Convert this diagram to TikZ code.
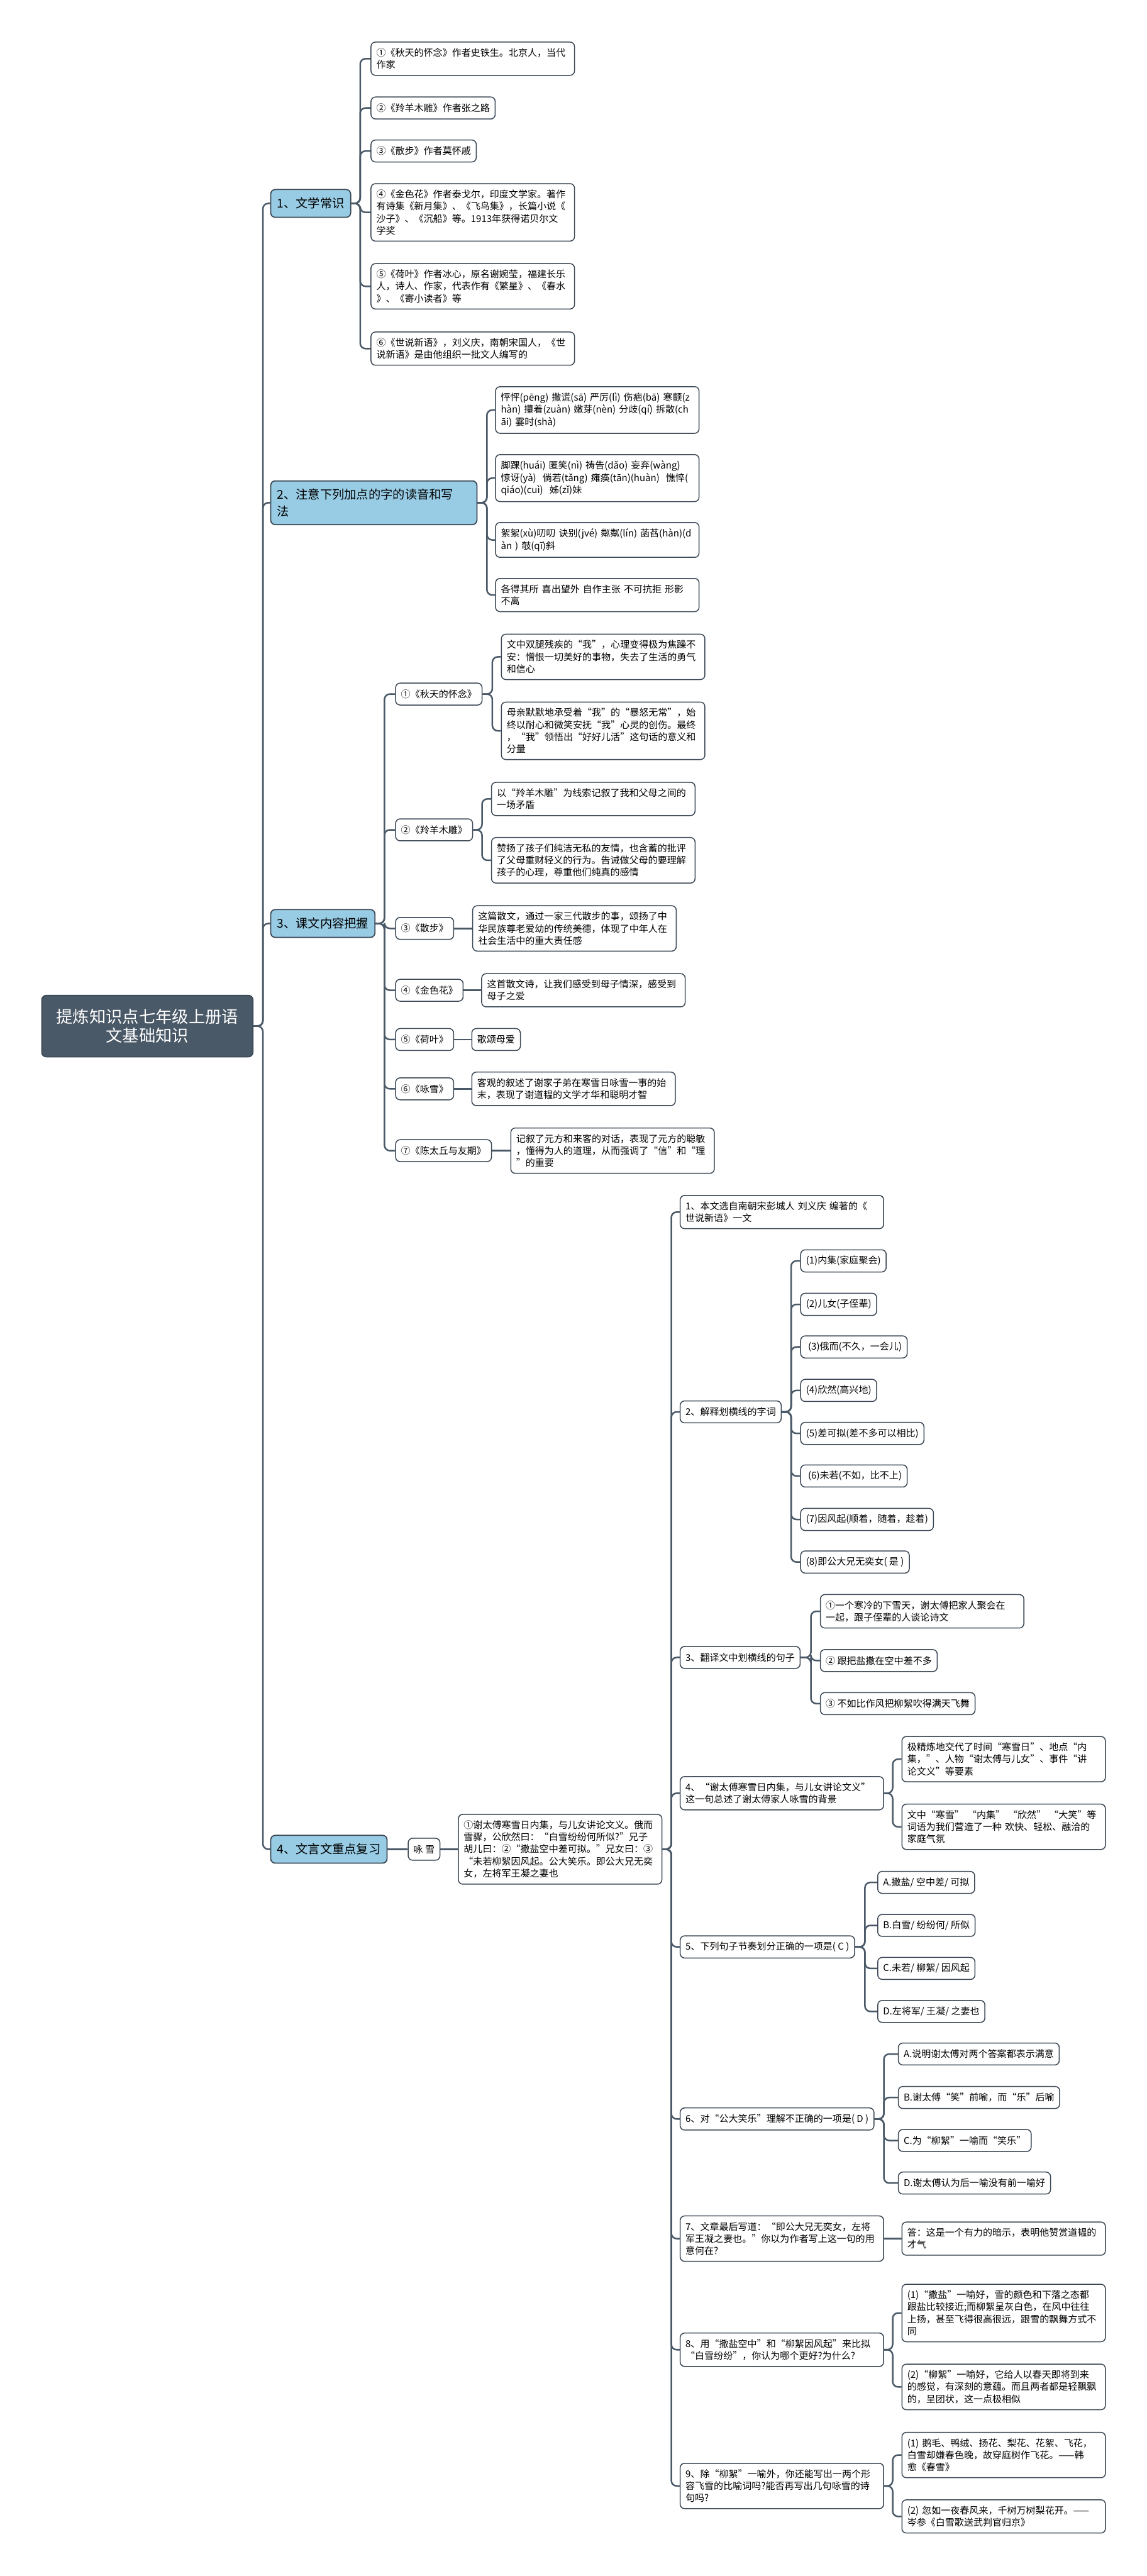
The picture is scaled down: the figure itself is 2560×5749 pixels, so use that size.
\documentclass[tikz,border=0pt]{standalone}
\usepackage{fontspec}
\setmainfont{Noto Sans CJK SC}
\usepackage{tikz}
\usetikzlibrary{positioning}
\XeTeXlinebreaklocale "zh"
\XeTeXlinebreakskip=0pt
\definecolor{slate}{HTML}{4A5967}
\definecolor{edge}{HTML}{3B4855}
\definecolor{sky}{HTML}{98CCE5}

\begin{document}
\begin{tikzpicture}[x=0.01cm, y=-0.01cm,
  root/.style={draw=edge, fill=slate, rounded corners=0.1cm, anchor=west, text=white,
               align=center, text width=4.3cm, minimum width=4.71cm, minimum height=1.37cm,
               line width=0.7pt, font=\fontsize{10.5}{12.2}\selectfont},
  topic/.style={draw=edge, fill=sky, rounded corners=0.1cm, anchor=west, align=left,
                inner xsep=0.14cm, inner ysep=5pt, minimum height=0.62cm,
                line width=0.7pt, font=\fontsize{7.7}{10.6}\selectfont},
  leaf/.style={draw=edge, fill=white, rounded corners=0.1cm, anchor=west, align=left,
               inner xsep=0.12cm, inner ysep=3.9pt, minimum height=0.49cm,
               line width=0.6pt, font=\fontsize{6}{7.7}\selectfont},
  wide/.style={text width=4.3cm},
  link/.style={draw=slate, line width=1pt, rounded corners=0.12cm}
]
\useasboundingbox (0,0) rectangle (2560,5749);

% root and main topics
\node[root] (root) at (92,2290) {提炼知识点七年级上册语\\文基础知识};
\node[topic] (cat1) at (603,454) {1、文学常识};
\node[topic, text width=4.32cm] (cat2) at (603,1122) {2、注意下列加点的字的读音和写\\法};
\node[topic] (cat3) at (603,2061) {3、课文内容把握};
\node[topic] (cat4) at (603,4127) {4、文言文重点复习};

% 1
\node[leaf, wide] (lit1) at (827,131) {①《秋天的怀念》作者史铁生。北京人，当代\\作家};
\node[leaf] (lit2) at (827,241) {②《羚羊木雕》作者张之路};
\node[leaf] (lit3) at (827,337) {③《散步》作者莫怀戚};
\node[leaf, wide] (lit4) at (827,474) {④《金色花》作者泰戈尔，印度文学家。著作\\有诗集《新月集》、《飞鸟集》，长篇小说《\\沙子》、《沉船》等。1913年获得诺贝尔文\\学奖};
\node[leaf, wide] (lit5) at (827,639) {⑤《荷叶》作者冰心，原名谢婉莹，福建长乐\\人，诗人、作家，代表作有《繁星》、《春水\\》、《寄小读者》等};
\node[leaf, wide] (lit6) at (827,778) {⑥《世说新语》，刘义庆，南朝宋国人，《世\\说新语》是由他组织一批文人编写的};

% 2
\node[leaf, wide] (pron1) at (1105,915) {怦怦(pēng) 撒谎(sā) 严厉(lì) 伤疤(bā) 寒颤(z\\hàn) 攥着(zuàn) 嫩芽(nèn) 分歧(qí) 拆散(ch\\āi) 霎时(shà)};
\node[leaf, wide] (pron2) at (1105,1067) {脚踝(huái) 匿笑(nì) 祷告(dǎo) 妄弃(wàng)\\惊讶(yà)\ \ 倘若(tǎng) 瘫痪(tān)(huàn)\ \ 憔悴(\\qiáo)(cuì)\ \ 姊(zǐ)妹};
\node[leaf, wide] (pron3) at (1105,1205) {絮絮(xù)叨叨 诀别(jvé) 粼粼(lín) 菡萏(hàn)(d\\àn ) 攲(qī)斜};
\node[leaf, wide] (pron4) at (1105,1328) {各得其所 喜出望外 自作主张 不可抗拒 形影\\不离};

% 3
\node[leaf] (k1) at (882,1549) {①《秋天的怀念》};
\node[leaf] (k2) at (882,1852) {②《羚羊木雕》};
\node[leaf] (k3) at (882,2072) {③《散步》};
\node[leaf] (k4) at (882,2210) {④《金色花》};
\node[leaf] (k5) at (882,2320) {⑤《荷叶》};
\node[leaf] (k6) at (882,2430) {⑥《咏雪》};
\node[leaf] (k7) at (882,2568) {⑦《陈太丘与友期》};
\node[leaf, wide] (k1a) at (1118,1466) {文中双腿残疾的“我”，心理变得极为焦躁不\\安：憎恨一切美好的事物，失去了生活的勇气\\和信心};
\node[leaf, wide] (k1b) at (1118,1631) {母亲默默地承受着“我”的“暴怒无常”，始\\终以耐心和微笑安抚“我”心灵的创伤。最终\\，“我”领悟出“好好儿活”这句话的意义和\\分量};
\node[leaf, wide] (k2a) at (1096,1783) {以“羚羊木雕”为线索记叙了我和父母之间的\\一场矛盾};
\node[leaf, wide] (k2b) at (1096,1920) {赞扬了孩子们纯洁无私的友情，也含蓄的批评\\了父母重财轻义的行为。告诫做父母的要理解\\孩子的心理，尊重他们纯真的感情};
\node[leaf, wide] (k3a) at (1054,2072) {这篇散文，通过一家三代散步的事，颂扬了中\\华民族尊老爱幼的传统美德，体现了中年人在\\社会生活中的重大责任感};
\node[leaf, wide] (k4a) at (1074,2210) {这首散文诗，让我们感受到母子情深，感受到\\母子之爱};
\node[leaf] (k5a) at (1052,2320) {歌颂母爱};
\node[leaf, wide] (k6a) at (1052,2430) {客观的叙述了谢家子弟在寒雪日咏雪一事的始\\末，表现了谢道韫的文学才华和聪明才智};
\node[leaf, wide] (k7a) at (1139,2568) {记叙了元方和来客的对话，表现了元方的聪敏\\，懂得为人的道理，从而强调了“信”和“理\\”的重要};

% 4
\node[leaf] (yong) at (910,4127) {咏 雪};
\node[leaf, wide] (poem) at (1022,4127) {①谢太傅寒雪日内集，与儿女讲论文义。俄而\\雪骤，公欣然曰：“白雪纷纷何所似?”兄子\\胡儿曰：②“撒盐空中差可拟。”兄女曰：③\\“未若柳絮因风起。公大笑乐。即公大兄无奕\\女，左将军王凝之妻也};
\node[leaf, wide] (q1) at (1517,2705) {1、本文选自南朝宋彭城人 刘义庆 编著的《\\世说新语》一文};
\node[leaf] (q2) at (1517,3151) {2、解释划横线的字词};
\node[leaf] (q3) at (1517,3699) {3、翻译文中划横线的句子};
\node[leaf, wide] (q4) at (1517,4002) {4、“谢太傅寒雪日内集，与儿女讲论文义”\\这一句总述了谢太傅家人咏雪的背景};
\node[leaf] (q5) at (1517,4345) {5、下列句子节奏划分正确的一项是( C )};
\node[leaf] (q6) at (1517,4729) {6、对“公大笑乐”理解不正确的一项是( D )};
\node[leaf, wide] (q7) at (1517,4996) {7、文章最后写道：“即公大兄无奕女，左将\\军王凝之妻也。”你以为作者写上这一句的用\\意何在?};
\node[leaf, wide] (q8) at (1517,5244) {8、用“撒盐空中”和“柳絮因风起”来比拟\\“白雪纷纷”，你认为哪个更好?为什么?};
\node[leaf, wide] (q9) at (1517,5548) {9、除“柳絮”一喻外，你还能写出一两个形\\容飞雪的比喻词吗?能否再写出几句咏雪的诗\\句吗?};

\node[leaf] (q2a) at (1786,2814) {(1)内集(家庭聚会)};
\node[leaf] (q2b) at (1786,2911) {(2)儿女(子侄辈)};
\node[leaf] (q2c) at (1786,3006) {\ (3)俄而(不久，一会儿)};
\node[leaf] (q2d) at (1786,3103) {(4)欣然(高兴地)};
\node[leaf] (q2e) at (1786,3199) {(5)差可拟(差不多可以相比)};
\node[leaf] (q2f) at (1786,3294) {\ (6)未若(不如，比不上)};
\node[leaf] (q2g) at (1786,3391) {(7)因风起(顺着，随着，趁着)};
\node[leaf] (q2h) at (1786,3486) {(8)即公大兄无奕女( 是 )};

\node[leaf, wide] (q3a) at (1830,3596) {①一个寒冷的下雪天，谢太傅把家人聚会在\\一起，跟子侄辈的人谈论诗文};
\node[leaf] (q3b) at (1830,3706) {② 跟把盐撒在空中差不多};
\node[leaf] (q3c) at (1830,3802) {③ 不如比作风把柳絮吹得满天飞舞};

\node[leaf, wide] (q4a) at (2012,3926) {极精炼地交代了时间“寒雪日”、地点“内\\集，”、人物“谢太傅与儿女”、事件“讲\\论文义”等要素};
\node[leaf, wide] (q4b) at (2012,4077) {文中“寒雪” “内集” “欣然” “大笑”等\\词语为我们营造了一种 欢快、轻松、融洽的\\家庭气氛};

\node[leaf] (q5a) at (1958,4201) {A.撒盐/ 空中差/ 可拟};
\node[leaf] (q5b) at (1958,4297) {B.白雪/ 纷纷何/ 所似};
\node[leaf] (q5c) at (1958,4393) {C.未若/ 柳絮/ 因风起};
\node[leaf] (q5d) at (1958,4489) {D.左将军/ 王凝/ 之妻也};

\node[leaf] (q6a) at (2004,4584) {A.说明谢太傅对两个答案都表示满意};
\node[leaf] (q6b) at (2004,4681) {B.谢太傅“笑”前喻，而“乐”后喻};
\node[leaf] (q6c) at (2004,4777) {C.为“柳絮”一喻而“笑乐”};
\node[leaf] (q6d) at (2004,4872) {D.谢太傅认为后一喻没有前一喻好};

\node[leaf, wide] (q7a) at (2012,4996) {答：这是一个有力的暗示，表明他赞赏道韫的\\才气};
\node[leaf, wide] (q8a) at (2012,5162) {(1)“撒盐”一喻好，雪的颜色和下落之态都\\跟盐比较接近;而柳絮呈灰白色，在风中往往\\上扬，甚至飞得很高很远，跟雪的飘舞方式不\\同};
\node[leaf, wide] (q8b) at (2012,5327) {(2)“柳絮”一喻好，它给人以春天即将到来\\的感觉，有深刻的意蕴。而且两者都是轻飘飘\\的，呈团状，这一点极相似};
\node[leaf, wide] (q9a) at (2012,5479) {(1) 鹅毛、鸭绒、扬花、梨花、花絮、飞花，\\白雪却嫌春色晚，故穿庭树作飞花。——韩\\愈《春雪》};
\node[leaf, wide] (q9b) at (2012,5616) {(2) 忽如一夜春风来，千树万树梨花开。——\\岑参《白雪歌送武判官归京》};

% connectors
\foreach \n in {cat1,cat2,cat3,cat4} \draw[link] (root.east) -- ++(21,0) |- (\n.west);
\foreach \n in {lit1,lit2,lit3,lit4,lit5,lit6} \draw[link] (cat1.east) -- ++(20,0) |- (\n.west);
\foreach \n in {pron1,pron2,pron3,pron4} \draw[link] (cat2.east) -- ++(21,0) |- (\n.west);
\foreach \n in {k1,k2,k3,k4,k5,k6,k7} \draw[link] (cat3.east) -- ++(20,0) |- (\n.west);
\foreach \n in {k1a,k1b} \draw[link] (k1.east) -- ++(22,0) |- (\n.west);
\foreach \n in {k2a,k2b} \draw[link] (k2.east) -- ++(20,0) |- (\n.west);
\foreach \n in {k3,k4,k5,k6,k7} \draw[link] (\n.east) -- (\n a.west);
\draw[link] (cat4.east) -- (yong.west);
\draw[link] (yong.east) -- (poem.west);
\foreach \n in {q1,q2,q3,q4,q5,q6,q7,q8,q9} \draw[link] (poem.east) -- ++(20,0) |- (\n.west);
\foreach \n in {q2a,q2b,q2c,q2d,q2e,q2f,q2g,q2h} \draw[link] (q2.east) -- ++(21,0) |- (\n.west);
\foreach \n in {q3a,q3b,q3c} \draw[link] (q3.east) -- ++(23,0) |- (\n.west);
\foreach \n in {q4a,q4b} \draw[link] (q4.east) -- ++(19,0) |- (\n.west);
\foreach \n in {q5a,q5b,q5c,q5d} \draw[link] (q5.east) -- ++(22,0) |- (\n.west);
\foreach \n in {q6a,q6b,q6c,q6d} \draw[link] (q6.east) -- ++(21,0) |- (\n.west);
\draw[link] (q7.east) -- (q7a.west);
\foreach \n in {q8a,q8b} \draw[link] (q8.east) -- ++(19,0) |- (\n.west);
\foreach \n in {q9a,q9b} \draw[link] (q9.east) -- ++(19,0) |- (\n.west);
\end{tikzpicture}
\end{document}
